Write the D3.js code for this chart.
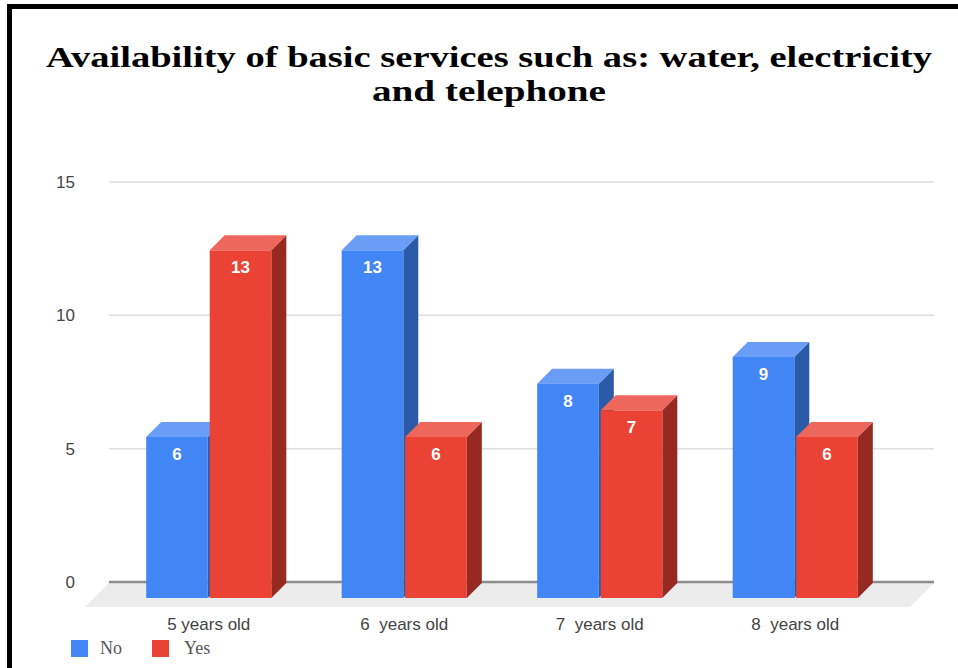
<!DOCTYPE html>
<html>
<head>
<meta charset="utf-8">
<script src="https://cdn.jsdelivr.net/npm/d3@7"></script>
<style>
  html, body { margin: 0; padding: 0; background: #fff; }
  svg { display: block; }
  text { white-space: pre; }
</style>
</head>
<body>
<svg id="chart" width="958" height="668"></svg>
<script>
// Chart data
const categories = ["5 years old", "6  years old", "7  years old", "8  years old"];
const seriesNames = ["No", "Yes"];
const noValues = [6, 13, 8, 9];
const yesValues = [13, 6, 7, 6];
const yTicks = [0, 5, 10, 15];
const titleLines = ["Availability of basic services such as: water, electricity", "and telephone"];

// Face colours per series: front, top, side
const palette = {
  No:  { front: "#4285f4", top: "#6a9ef6", side: "#2b5aa8" },
  Yes: { front: "#ea4335", top: "#ee675c", side: "#962a22" }
};

const svg = d3.select("#chart");
const sansFont = "Arial, 'Liberation Sans', sans-serif";
const serifFont = "'Liberation Serif', 'Times New Roman', serif";

// Scales: y on the back plane; x for the front faces of the bars
const y = d3.scaleLinear().domain([0, 15]).range([582, 182]);
const x0 = d3.scaleBand().domain(categories).range([111, 893]).paddingInner(0.36).paddingOuter(0.18);
const x1 = d3.scaleBand().domain(seriesNames).range([0, x0.bandwidth()]).paddingInner(0.03);
const depth = 15;
const plotLeft = 109, plotRight = 934;

// Frame (top and left edges)
svg.append("line").attr("x1", 7).attr("x2", 958).attr("y1", 6.5).attr("y2", 6.5)
  .attr("stroke", "#000").attr("stroke-width", 5);
svg.append("line").attr("x1", 9.5).attr("x2", 9.5).attr("y1", 4).attr("y2", 668)
  .attr("stroke", "#000").attr("stroke-width", 5);

// Title
const title = svg.append("g");
title.append("text").attr("x", 489).attr("y", 67)
  .attr("text-anchor", "middle").attr("font-family", serifFont).attr("font-weight", "bold")
  .attr("font-size", 30).attr("fill", "#000")
  .attr("textLength", 886).attr("lengthAdjust", "spacingAndGlyphs")
  .text(titleLines[0]);
title.append("text").attr("x", 489).attr("y", 101)
  .attr("text-anchor", "middle").attr("font-family", serifFont).attr("font-weight", "bold")
  .attr("font-size", 30).attr("fill", "#000")
  .attr("textLength", 234).attr("lengthAdjust", "spacingAndGlyphs")
  .text(titleLines[1]);

// Floor
svg.append("path")
  .attr("d", `M${plotLeft},${y(0) + 1} L${plotRight},${y(0) + 1} L${plotRight - 24},${y(0) + 25} L${plotLeft - 24},${y(0) + 25} Z`)
  .attr("fill", "#ececec");

// Gridlines and y-axis labels
const yAxis = d3.axisLeft(y).tickValues(yTicks).tickSize(0).tickPadding(0).tickFormat(d3.format("d"));
const yg = svg.append("g").attr("transform", "translate(75,0)").call(yAxis);
yg.select(".domain").remove();
yg.selectAll("text").attr("font-family", sansFont).attr("font-size", 17).attr("fill", "#444");

svg.append("g").selectAll("line").data(yTicks).join("line")
  .attr("x1", plotLeft).attr("x2", plotRight)
  .attr("y1", d => y(d)).attr("y2", d => y(d))
  .attr("stroke", d => d === 0 ? "#8c8c8c" : "#dedede")
  .attr("stroke-width", d => d === 0 ? 2.5 : 1.5);

// Bars as prisms
const rows = categories.map((c, i) => ({ cat: c, values: [
  { key: "No", value: noValues[i] },
  { key: "Yes", value: yesValues[i] }
]}));

const base = y(0) + 1;
const groups = svg.append("g").selectAll("g").data(rows).join("g")
  .attr("transform", d => `translate(${x0(d.cat)},0)`);

const bars = groups.selectAll("g").data(d => d.values).join("g");
const w = x1.bandwidth();

bars.each(function(d) {
  const g = d3.select(this);
  const xf = x1(d.key);
  const yt = y(d.value);
  const c = palette[d.key];
  // side face
  g.append("path")
    .attr("d", `M${xf + w},${yt + depth} L${xf + w + depth},${yt} L${xf + w + depth},${base} L${xf + w},${base + depth} Z`)
    .attr("fill", c.side);
  // top face
  g.append("path")
    .attr("d", `M${xf},${yt + depth} L${xf + depth},${yt} L${xf + w + depth},${yt} L${xf + w},${yt + depth} Z`)
    .attr("fill", c.top);
  // front face
  g.append("rect")
    .attr("x", xf).attr("y", yt + depth)
    .attr("width", w).attr("height", base - yt)
    .attr("fill", c.front);
  // value label
  g.append("text")
    .attr("x", xf + w / 2).attr("y", yt + depth + 23)
    .attr("text-anchor", "middle").attr("font-family", sansFont)
    .attr("font-weight", 600).attr("font-size", 17).attr("fill", "#fff")
    .text(d.value);
});

// Category labels
svg.append("g").selectAll("text").data(categories).join("text")
  .attr("x", d => x0(d) + x0.bandwidth() / 2).attr("y", 630)
  .attr("text-anchor", "middle").attr("font-family", sansFont)
  .attr("font-size", 17).attr("fill", "#444")
  .text(d => d);

// Legend
const legendItems = [
  { key: "No", x: 71, tx: 100 },
  { key: "Yes", x: 152, tx: 184 }
];
const legend = svg.append("g");
legend.selectAll("rect").data(legendItems).join("rect")
  .attr("x", d => d.x).attr("y", 640).attr("width", 17).attr("height", 17)
  .attr("fill", d => palette[d.key].front);
legend.selectAll("text").data(legendItems).join("text")
  .attr("x", d => d.tx).attr("y", 654)
  .attr("font-family", serifFont).attr("font-size", 18).attr("fill", "#555")
  .text(d => d.key);
</script>
</body>
</html>
